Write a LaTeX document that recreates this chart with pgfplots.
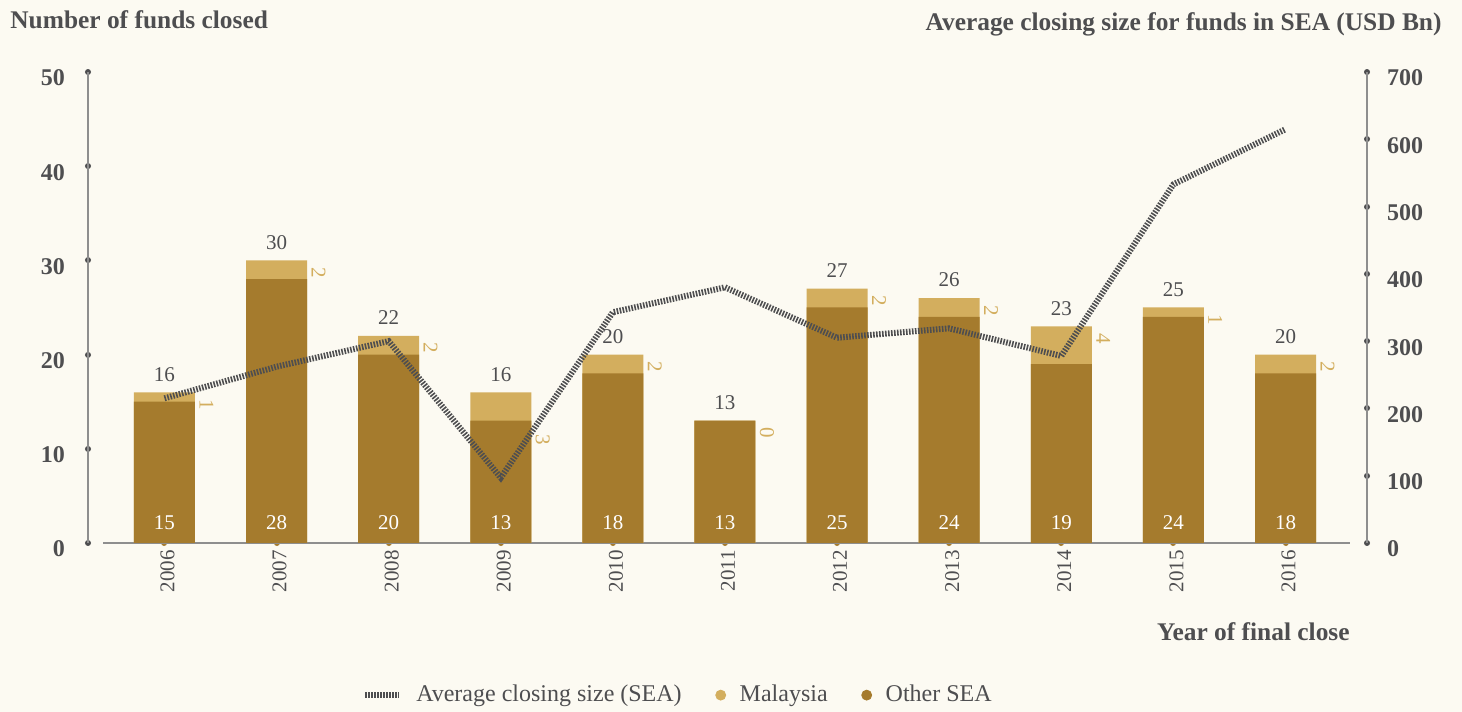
\documentclass[border=0pt]{standalone}
\usepackage{pgfplots}
\pgfplotsset{compat=1.18}
\usepackage{pgfplotstable}
\usepackage{fontspec}
\setmainfont{Liberation Serif}

\definecolor{bg}{HTML}{FCFAF2}
\definecolor{dgold}{HTML}{A57B2D}
\definecolor{lgold}{HTML}{D3AE5E}
\definecolor{ink}{HTML}{4E4E50}
\definecolor{axgrey}{HTML}{8E8E8E}

% x: category position, maly: where the rotated Malaysia label starts
\pgfplotstableread{
x year other mal total maly line
0  2006 15 1 16 16   215
1  2007 28 2 30 30   262
2  2008 20 2 22 22   300
3  2009 13 3 16 12.3  97
4  2010 18 2 20 20   343
5  2011 13 0 13 13   380
6  2012 25 2 27 27   305
7  2013 24 2 26 26   319
8  2014 19 4 23 23   278
9  2015 24 1 25 25   533
10 2016 18 2 20 20   615
}\fundsdata

\begin{document}
\begin{tikzpicture}
\fill[bg] (0,0) rectangle (731pt,356pt);

\pgfplotsset{
  base/.style={
    at={(44pt,84.5pt)}, anchor=south west,
    width=639.5pt, height=235.5pt, scale only axis,
    xmin=-0.682, xmax=10.727, ymin=0, clip=false,
    major tick length=0.01pt, tick align=center,
    /pgf/number format/assume math mode=true,
    y axis line style={-, axgrey, line width=0.8pt},
    ytick style={ink, line width=3pt, line cap=round},
    yticklabel style={font=\bfseries\fontsize{12}{14}\selectfont, text=ink, yshift=-3pt},
  },
}

% bars, left axis
\begin{axis}[base,
  ymax=50, ytick={0,10,...,50},
  axis y line*=left, axis x line*=bottom,
  x axis line style={-, axgrey, line width=0.8pt, shorten <=7.5pt, shorten >=8.5pt},
  xtick style={dgold, line width=3pt, line cap=round},
  xtick={0,...,10}, xticklabels={2006,2007,2008,2009,2010,2011,2012,2013,2014,2015,2016},
  xticklabel style={rotate=90, anchor=east, yshift=-1.5pt, font=\fontsize{10.5}{12}\selectfont, text=ink},
  yticklabel style={xshift=-8pt},
]
\addplot[ybar, bar width=30.5pt, bar shift=0pt, fill=lgold, draw=none]
  table[x=x, y=total]{\fundsdata};
\addplot[ybar, bar width=30.5pt, bar shift=0pt, fill=dgold, draw=none]
  table[x=x, y=other]{\fundsdata};

% totals above the bars
\addplot[draw=none, mark=none, nodes near coords, point meta=explicit,
  nodes near coords style={anchor=south, yshift=2pt, text=ink,
    font=\fontsize{10.5}{12}\selectfont}]
  table[x=x, y=total, meta=total]{\fundsdata};
% Other SEA inside the bars
\addplot[draw=none, mark=none, nodes near coords, point meta=explicit,
  nodes near coords style={anchor=south, yshift=3pt, text=white,
    font=\fontsize{10.5}{12}\selectfont}]
  table[x=x, y expr=0, meta=other]{\fundsdata};
% Malaysia beside the bars
\addplot[draw=none, mark=none, nodes near coords, point meta=explicit,
  nodes near coords style={xshift=21pt, rotate=-90, anchor=west, text=lgold,
    font=\fontsize{10.5}{12}\selectfont}]
  table[x=x, y=maly, meta=mal]{\fundsdata};
\end{axis}

% line, right axis
\begin{axis}[base,
  ymax=700, ytick={0,100,...,700},
  axis y line*=right, axis x line=none, xtick=\empty,
  yticklabel style={xshift=6.5pt},
  legend style={draw=none, fill=none, at={(0.462,-0.323)}, anchor=center,
    legend columns=-1, font=\fontsize{12}{14}\selectfont, text=ink,
    /tikz/every odd column/.append style={column sep=5pt},
    /tikz/every even column/.append style={column sep=15pt}},
]
\addplot[ink, line width=3pt, dash pattern=on 0.8pt off 0.7pt]
  table[x=x, y=line]{\fundsdata};
\addlegendentry{Average closing size (SEA)}
\addlegendimage{only marks, mark=*, mark size=2.5pt, lgold}
\addlegendentry{Malaysia}
\addlegendimage{only marks, mark=*, mark size=2.5pt, dgold}
\addlegendentry{Other SEA}
\end{axis}

\node[anchor=west, inner sep=0, text=ink, font=\bfseries\fontsize{12.7}{14}\selectfont]
  at (5pt,346pt) {Number of funds closed};
\node[anchor=east, inner sep=0, text=ink, font=\bfseries\fontsize{12.7}{14}\selectfont]
  at (721pt,344pt) {Average closing size for funds in SEA (USD Bn)};
\node[anchor=east, inner sep=0, text=ink, font=\bfseries\fontsize{12.7}{14}\selectfont]
  at (675pt,40pt) {Year of final close};

\pgfresetboundingbox
\useasboundingbox (0,0) rectangle (731pt,356pt);
\end{tikzpicture}
\end{document}
